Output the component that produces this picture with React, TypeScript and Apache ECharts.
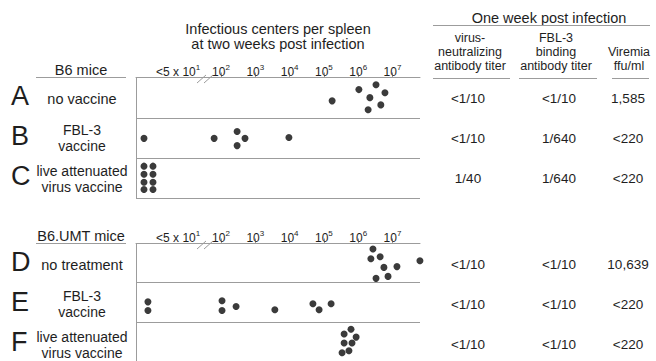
import React, { useEffect, useRef } from "react";
import * as echarts from "echarts";

// ---- data ----
const groupLetters = ["A", "B", "C", "D", "E", "F"];
const treatmentLabels = [
  ["no vaccine"],
  ["FBL-3", "vaccine"],
  ["live attenuated", "virus vaccine"],
  ["no treatment"],
  ["FBL-3", "vaccine"],
  ["live attenuated", "virus vaccine"],
];
const mouseStrains = ["B6 mice", "B6.UMT mice"];
const neutralizingTiter = ["<1/10", "<1/10", "1/40", "<1/10", "<1/10", "<1/10"];
const bindingTiter = ["<1/10", "1/640", "1/640", "<1/10", "<1/10", "<1/10"];
const viremia = ["1,585", "<220", "<220", "10,639", "<220", "<220"];

// x: log10(infectious centers per spleen); values below 1 = "<5 x 10^1" (undetectable) plotting slot
// y: vertical jitter inside the row (0 = row top, 1 = row bottom)
const dotsA_log = [5.24, 6.02, 6.52, 6.78, 6.34, 6.66, 6.29];
const dotsA_pos = [0.58, 0.3, 0.18, 0.38, 0.5, 0.68, 0.8];
const dotsB_log = [-0.245, 1.8, 2.47, 2.7, 2.47, 3.98];
const dotsB_pos = [0.51, 0.51, 0.34, 0.51, 0.69, 0.49];
const dotsC_log = [-0.245, 0.017, -0.245, 0.017, -0.245, 0.017, -0.245, 0.017];
const dotsC_pos = [0.2, 0.2, 0.4, 0.4, 0.6, 0.6, 0.78, 0.78];
const dotsD_log = [6.43, 6.37, 6.64, 6.75, 7.13, 6.52, 6.87, 7.8];
const dotsD_pos = [0.14, 0.39, 0.34, 0.61, 0.59, 0.89, 0.84, 0.44];
const dotsE_log = [-0.13, -0.13, 2.03, 2.03, 2.44, 3.57, 4.68, 4.86, 5.21];
const dotsE_pos = [0.49, 0.71, 0.46, 0.71, 0.61, 0.69, 0.54, 0.69, 0.54];
const dotsF_log = [5.79, 5.59, 5.94, 5.59, 5.82, 5.73, 5.53];
const dotsF_pos = [0.19, 0.31, 0.39, 0.54, 0.54, 0.74, 0.79];

const tickExponents = [2, 3, 4, 5, 6, 7];
const undetectableLabelPos = 0.75;

const FONT = "Liberation Sans, Arial, Helvetica, sans-serif";
const TEXT = "#1e1e1e";
const GRAY = "#9c9c9c";

export default function App() {
  const ref = useRef<HTMLDivElement>(null);
  useEffect(() => {
    if (!ref.current) return;
    const chart = echarts.init(ref.current, undefined, { renderer: "svg" });

    const gridLeft = 136;
    const gridWidth = 284;
    const gridTops = [77.5, 243.5];
    const rowH = 40.3;
    const rowCenter = (i: number) => gridTops[i < 3 ? 0 : 1] + rowH * ((i % 3) + 0.5);

    const panels = [
      [dotsA_log, dotsA_pos],
      [dotsB_log, dotsB_pos],
      [dotsC_log, dotsC_pos],
      [dotsD_log, dotsD_pos],
      [dotsE_log, dotsE_pos],
      [dotsF_log, dotsF_pos],
    ];

    const xAxisBase = (gi: number) => ({
      gridIndex: gi,
      type: "value",
      position: "top",
      min: -0.478,
      max: 7.802,
      axisLine: { show: true, onZero: false, lineStyle: { color: GRAY, width: 1 } },
      axisTick: {
        show: true,
        inside: false,
        length: 5,
        customValues: tickExponents,
        lineStyle: { color: GRAY },
      },
      axisLabel: {
        customValues: [undetectableLabelPos, ...tickExponents],
        margin: 0,
        formatter: (v: number) =>
          v < 1 ? "{b|<5 x 10}{s|1}" : "{b|10}{s|" + Math.round(v) + "}",
        rich: {
          b: { fontSize: 12, fontFamily: FONT, color: TEXT, lineHeight: 14, verticalAlign: "bottom" },
          s: { fontSize: 8, fontFamily: FONT, color: TEXT, lineHeight: 4, verticalAlign: "top" },
        },
      },
      splitLine: { show: false },
    });

    const yAxisBase = (gi: number) => ({
      gridIndex: gi,
      type: "value",
      position: "left",
      min: 0,
      max: 3,
      interval: 1,
      inverse: true,
      axisLine: { show: true, onZero: false, lineStyle: { color: GRAY } },
      axisTick: { show: false },
      axisLabel: { show: false },
      splitLine: { show: true, lineStyle: { color: GRAY, width: 1 } },
    });

    const series = panels.map(([xs, ys], i) => ({
      type: "scatter",
      xAxisIndex: i < 3 ? 0 : 1,
      yAxisIndex: i < 3 ? 0 : 1,
      symbol: "circle",
      symbolSize: 7,
      clip: false,
      itemStyle: { color: "#0a0a0a" },
      data: xs.map((x, k) => [x, (i % 3) + ys[k]]),
    }));

    const graphics: any[] = [];
    const txt = (
      text: string,
      x: number,
      y: number,
      size: number,
      align = "center",
      lineHeight?: number
    ) =>
      graphics.push({
        type: "text",
        x,
        y,
        style: {
          text,
          fontSize: size,
          fontFamily: FONT,
          fill: TEXT,
          textAlign: align,
          textVerticalAlign: "middle",
          lineHeight: lineHeight ?? Math.round(size * 1.2),
        },
      });
    const line = (x1: number, y1: number, x2: number, y2: number) =>
      graphics.push({
        type: "line",
        shape: { x1, y1, x2, y2 },
        style: { stroke: GRAY, lineWidth: 1 },
      });

    // titles
    txt("Infectious centers per spleen\nat two weeks post infection", 278, 36.5, 14.5, "center", 15.5);
    txt("One week post infection", 549, 18, 14.5);
    line(433, 25.5, 650, 25.5);
    const colX = [470, 556, 629];
    txt("virus-\nneutralizing\nantibody titer", colX[0], 51.5, 12.5, "center", 14);
    txt("FBL-3\nbinding\nantibody titer", colX[1], 51.5, 12.5, "center", 14);
    txt("Viremia\nffu/ml", colX[2], 58.5, 12.5, "center", 14);
    line(433, 78.5, 510, 78.5);
    line(519, 78.5, 597, 78.5);
    line(612, 78.5, 649, 78.5);

    // strain labels
    mouseStrains.forEach((s, k) => {
      const gt = gridTops[k];
      txt(s, 81, gt - 7.5, 14.5);
      line(36, gt, 126, gt);
      // axis break marks
      line(197, gt + 5.5, 206, gt - 2.5);
      line(204, gt + 5.5, 213, gt - 2.5);
    });

    groupLetters.forEach((L, i) => {
      const cy = rowCenter(i);
      txt(L, 11, cy - 2, 27, "left");
      const lines = treatmentLabels[i];
      if (lines.length === 1) txt(lines[0], 82, cy + 1, 14.5);
      else txt(lines.join("\n"), 82, cy + 0.5, 14, "center", 16);
      txt(neutralizingTiter[i], 468, cy + 0.5, 13.5);
      txt(bindingTiter[i], 559, cy + 0.5, 13.5);
      txt(viremia[i], 628, cy + 0.5, 13.5);
    });

    chart.setOption({
      animation: false,
      backgroundColor: "#ffffff",
      grid: gridTops.map((t) => ({ left: gridLeft, top: t, width: gridWidth, height: rowH * 3 })),
      xAxis: [xAxisBase(0), xAxisBase(1)],
      yAxis: [yAxisBase(0), yAxisBase(1)],
      series,
      graphic: graphics,
    } as any);

    return () => chart.dispose();
  }, []);

  return (
    <div
      ref={ref}
      style={{ position: "absolute", left: 0, top: 0, width: 656, height: 361 }}
    />
  );
}
